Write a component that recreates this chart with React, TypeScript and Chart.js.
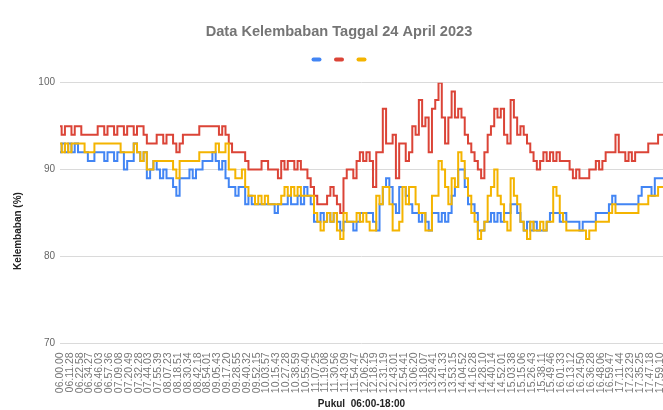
import React, { useEffect, useRef } from 'react';
import { Chart, registerables } from 'chart.js';

Chart.register(...registerables);

const chartTitle = 'Data Kelembaban Taggal 24 April 2023';
const xAxisTitle = 'Pukul  06:00-18:00';
const yAxisTitle = 'Kelembaban (%)';

const tickLabels = [
  '06.00.00', '06.11.28', '06.22.58', '06.34.27', '06.46.03', '06.57.36', '07.09.08', '07.20.49', '07.32.28', '07.44.03',
  '07.55.39', '08.07.23', '08.18.51', '08.30.34', '08.42.18', '08.54.01', '09.05.43', '09.17.20', '09.28.55', '09.40.32',
  '09.52.15', '10.03.57', '10.15.43', '10.27.28', '10.38.59', '10.55.40', '11.07.25', '11.19.08', '11.30.56', '11.43.09',
  '11.54.47', '12.06.25', '12.18.19', '12.31.19', '12.43.01', '12.54.41', '13.06.20', '13.18.07', '13.29.41', '13.41.33',
  '13.53.15', '14.04.52', '14.16.28', '14.28.10', '14.40.14', '14.52.01', '15.03.38', '15.15.06', '15.26.43', '15.38.11',
  '15.49.46', '16.01.33', '16.13.12', '16.24.50', '16.36.28', '16.48.06', '16.59.47', '17.11.44', '17.23.29', '17.35.25',
  '17.47.18', '17.59.10',
];

const pointsPerTick = 3;

const seriesBlue = [
  92, 93, 92, 93, 92, 93, 92, 92, 92, 91,
  91, 92, 92, 92, 91, 92, 92, 91, 92, 92,
  90, 91, 91, 93, 92, 91, 92, 89, 90, 91,
  90, 89, 90, 89, 89, 88, 87, 89, 89, 89,
  90, 89, 90, 90, 91, 91, 91, 92, 91, 90,
  91, 89, 88, 88, 87, 88, 88, 86, 87, 86,
  86, 86, 86, 86, 86, 86, 85, 86, 86, 86,
  87, 86, 86, 87, 86, 88, 87, 86, 84, 84,
  85, 84, 85, 84, 85, 84, 83, 84, 84, 84,
  83, 84, 85, 85, 85, 85, 84, 83, 86, 88,
  89, 88, 86, 85, 88, 88, 87, 86, 85, 85,
  84, 85, 84, 83, 85, 85, 84, 85, 84, 85,
  87, 88, 90, 90, 88, 86, 86, 85, 83, 83,
  84, 84, 85, 84, 85, 84, 85, 85, 86, 86,
  85, 84, 83, 84, 83, 84, 83, 83, 83, 84,
  85, 85, 85, 84, 85, 84, 84, 84, 84, 83,
  84, 84, 84, 84, 85, 85, 85, 85, 86, 87,
  86, 86, 86, 86, 86, 86, 86, 87, 88, 88,
  88, 87, 89, 89, 89,
];

const seriesRed = [
  95, 94, 95, 95, 94, 95, 95, 94, 94, 94,
  94, 94, 95, 95, 94, 95, 95, 94, 95, 95,
  94, 95, 95, 94, 95, 95, 94, 93, 93, 93,
  94, 94, 93, 94, 94, 93, 92, 93, 94, 94,
  94, 94, 94, 95, 95, 95, 95, 95, 95, 94,
  95, 94, 93, 92, 92, 92, 92, 91, 90, 90,
  90, 90, 91, 91, 90, 90, 90, 89, 91, 90,
  91, 91, 90, 91, 90, 90, 89, 88, 87, 86,
  86, 86, 87, 88, 87, 86, 85, 89, 90, 90,
  89, 91, 92, 91, 92, 91, 88, 92, 92, 97,
  93, 93, 94, 89, 93, 93, 91, 92, 95, 94,
  98, 95, 96, 92, 97, 98, 100, 96, 93, 96,
  99, 96, 97, 96, 94, 93, 92, 91, 90, 89,
  92, 94, 95, 97, 96, 97, 94, 93, 98, 96,
  94, 95, 94, 93, 92, 91, 90, 91, 92, 91,
  92, 91, 92, 91, 91, 91, 90, 89, 90, 89,
  89, 89, 90, 90, 91, 90, 91, 92, 92, 92,
  94, 92, 92, 91, 92, 91, 92, 92, 92, 92,
  93, 93, 93, 94, 94,
];

const seriesYellow = [
  93, 92, 93, 92, 93, 93, 93, 93, 92, 92,
  92, 93, 93, 93, 93, 93, 93, 93, 93, 92,
  92, 92, 92, 93, 92, 91, 92, 90, 90, 91,
  91, 91, 91, 91, 91, 90, 89, 91, 91, 91,
  91, 91, 91, 92, 92, 92, 92, 92, 93, 92,
  92, 93, 90, 90, 89, 89, 90, 88, 87, 87,
  86, 87, 86, 87, 86, 86, 86, 86, 87, 88,
  87, 88, 87, 88, 87, 87, 87, 87, 85, 84,
  83, 84, 85, 84, 85, 83, 82, 85, 84, 84,
  84, 85, 84, 85, 84, 83, 83, 87, 86, 88,
  88, 86, 83, 83, 84, 88, 86, 88, 88, 86,
  85, 85, 83, 83, 87, 87, 91, 90, 88, 86,
  89, 88, 92, 91, 89, 87, 85, 84, 82, 83,
  84, 87, 88, 90, 87, 86, 84, 83, 89, 87,
  86, 84, 83, 82, 84, 83, 83, 84, 83, 84,
  84, 88, 87, 85, 84, 83, 83, 83, 83, 83,
  83, 82, 83, 83, 84, 84, 84, 84, 85, 86,
  85, 85, 85, 85, 85, 85, 85, 86, 86, 86,
  87, 87, 87, 88, 88,
];

const colorBlue = '#4285F4';
const colorRed = '#DB4437';
const colorYellow = '#F4B400';

const FONT = "Arial, 'Liberation Sans', sans-serif";

export default function App() {
  const canvasRef = useRef<HTMLCanvasElement | null>(null);

  useEffect(() => {
    const canvas = canvasRef.current;
    if (!canvas) return;

    const labels = seriesRed.map((_, i) =>
      i % pointsPerTick === 0 ? tickLabels[i / pointsPerTick] ?? '' : ''
    );

    const extrasPlugin = {
      id: 'extras',
      afterDraw(chart: any) {
        const ctx = chart.ctx;
        const area = chart.chartArea;
        ctx.save();
        // legend markers (series have no names)
        const tb = chart.titleBlock;
        const cx = (tb.left + tb.right) / 2;
        const cy = 59.5;
        const cols = [colorBlue, colorRed, colorYellow];
        ctx.lineCap = 'round';
        ctx.lineWidth = 4;
        cols.forEach((c, k) => {
          const x = cx + (k - 1) * 22.5;
          ctx.strokeStyle = c;
          ctx.beginPath();
          ctx.moveTo(x - 3, cy);
          ctx.lineTo(x + 3, cy);
          ctx.stroke();
        });
        // y axis title
        ctx.translate(18, (area.top + area.bottom) / 2 + 18);
        ctx.rotate(-Math.PI / 2);
        ctx.fillStyle = '#222';
        ctx.font = `bold 10px ${FONT}`;
        ctx.textAlign = 'center';
        ctx.textBaseline = 'middle';
        ctx.fillText(yAxisTitle, 0, 0);
        ctx.restore();
      },
    };

    const mk = (data: number[], color: string, order: number) => ({
      label: '',
      data,
      borderColor: color,
      backgroundColor: color,
      borderWidth: 2,
      pointRadius: 0,
      stepped: 'middle' as const,
      order,
    });

    const chart = new Chart(canvas, {
      type: 'line',
      data: {
        labels,
        datasets: [
          mk(seriesBlue, colorBlue, 2),
          mk(seriesRed, colorRed, 1),
          mk(seriesYellow, colorYellow, 0),
        ],
      },
      options: {
        responsive: false,
        animation: false,
        layout: { padding: { left: 15, right: 0, top: 0, bottom: 0 } },
        plugins: {
          legend: { display: false },
          tooltip: { enabled: false },
          title: {
            display: true,
            text: chartTitle,
            color: '#757575',
            font: { family: FONT, size: 14.6, weight: 'bold' },
            padding: { top: 23, bottom: 42.2 },
          },
        },
        scales: {
          x: {
            type: 'category',
            offset: false,
            grid: { display: false },
            border: { display: false },
            ticks: {
              autoSkip: false,
              maxRotation: 90,
              minRotation: 90,
              padding: 1,
              color: '#777777',
              font: { family: FONT, size: 10.5 },
            },
            title: {
              display: true,
              text: xAxisTitle,
              color: '#222',
              font: { family: FONT, size: 10, weight: 'bold' },
              padding: 0,
            },
            afterFit: (s: any) => {
              s.height = 66.7;
              s.paddingLeft = 0;
              s.paddingRight = 0;
            },
          },
          y: {
            min: 70,
            max: 100,
            ticks: {
              stepSize: 10,
              padding: 5,
              color: '#666666',
              font: { family: FONT, size: 10 },
            },
            grid: { color: '#dadada', drawTicks: false },
            border: { display: false },
            afterFit: (s: any) => {
              s.width = 45;
              s.paddingTop = 0;
              s.paddingBottom = 0;
            },
          },
        },
      },
      plugins: [extrasPlugin],
    } as any);

    return () => chart.destroy();
  }, []);

  return (
    <div
      style={{
        position: 'fixed',
        left: 0,
        top: 0,
        width: 663,
        height: 410,
        overflow: 'hidden',
        background: '#fff',
      }}
    >
      <canvas ref={canvasRef} width={663} height={410} style={{ display: 'block', width: 663, height: 410 }} />
    </div>
  );
}
